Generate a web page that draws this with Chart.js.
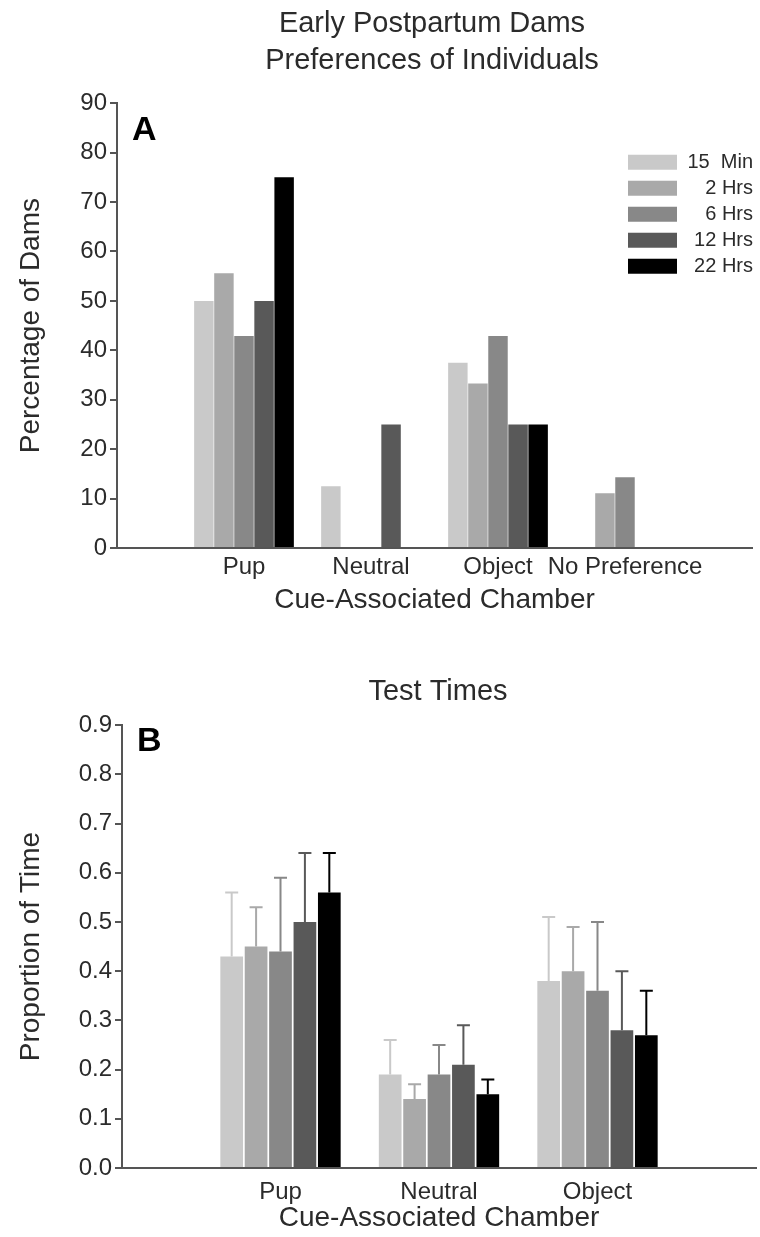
<!DOCTYPE html>
<html>
<head>
<meta charset="utf-8">
<script src="https://cdn.jsdelivr.net/npm/chart.js@4.4.1/dist/chart.umd.min.js"></script>
<style>
  html, body { margin: 0; background: #fff; overflow: hidden; width: 760px; height: 1237px; }
  #boxA { position: absolute; left: 0; top: 0; width: 864px; height: 625px; }
  #boxB { position: absolute; left: 0; top: 625px; width: 876px; height: 612px; }
</style>
</head>
<body>
<div id="boxA"><canvas id="chartA"></canvas></div>
<div id="boxB"><canvas id="chartB"></canvas></div>
<script>
"use strict";

// series shared by both panels
const seriesNames = ["15  Min", "2 Hrs", "6 Hrs", "12 Hrs", "22 Hrs"];
const seriesColors = ["#c9c9c9", "#a9a9a9", "#888888", "#595959", "#000000"];

// panel A - percentage of dams
const chambersA = ["Pup", "Neutral", "Object", "No Preference"];
const min15A = [50, 12.5, 37.5, 0];
const hrs2A = [55.6, 0, 33.3, 11.1];
const hrs6A = [42.9, 0, 42.9, 14.3];
const hrs12A = [50, 25, 25, 0];
const hrs22A = [75, 0, 25, 0];

// panel B - proportion of time
const chambersB = ["Pup", "Neutral", "Object"];
const min15B = [0.43, 0.19, 0.38];
const hrs2B = [0.45, 0.14, 0.40];
const hrs6B = [0.44, 0.19, 0.36];
const hrs12B = [0.50, 0.21, 0.28];
const hrs22B = [0.56, 0.15, 0.27];

// top of the error bars in panel B
const min15TopB = [0.56, 0.26, 0.51];
const hrs2TopB = [0.53, 0.17, 0.49];
const hrs6TopB = [0.59, 0.25, 0.50];
const hrs12TopB = [0.64, 0.29, 0.40];
const hrs22TopB = [0.64, 0.18, 0.36];

const textColor = "#2b2b2b";
const axisColor = "#555";
const fontFamily = "'Liberation Sans', Arial, sans-serif";

Chart.defaults.font.family = fontFamily;
Chart.defaults.color = textColor;

// empty slot on each side of the categories
function padded(arr, fill) {
  return [fill].concat(arr, [fill]);
}

function makeDatasets(valueLists, topLists) {
  let sets = [];
  for (let i = 0; i < valueLists.length; i++) {
    sets.push({
      label: seriesNames[i],
      data: padded(valueLists[i], null),
      errorTop: topLists ? padded(topLists[i], null) : null,
      backgroundColor: seriesColors[i],
      borderWidth: 0,
    });
  }
  return sets;
}

// upper error bars, drawn from each bar's top
const errorBars = {
  id: "errorBars",
  afterDatasetsDraw(chart) {
    const ctx = chart.ctx;
    const yScale = chart.scales.y;
    chart.data.datasets.forEach((ds, i) => {
      if (!ds.errorTop) return;
      const meta = chart.getDatasetMeta(i);
      meta.data.forEach((bar, j) => {
        const top = ds.errorTop[j];
        if (top === null || top === undefined) return;
        const yTop = yScale.getPixelForValue(top);
        ctx.save();
        ctx.strokeStyle = ds.backgroundColor;
        ctx.lineWidth = 2;
        ctx.beginPath();
        ctx.moveTo(bar.x, bar.y);
        ctx.lineTo(bar.x, yTop);
        ctx.moveTo(bar.x - 6.5, yTop);
        ctx.lineTo(bar.x + 6.5, yTop);
        ctx.stroke();
        ctx.restore();
      });
    });
  },
};

// panel letter in the top left corner
const panelLetter = {
  id: "panelLetter",
  afterDraw(chart, args, opts) {
    const ctx = chart.ctx;
    const area = chart.chartArea;
    ctx.save();
    ctx.fillStyle = "#000";
    ctx.font = "bold 34px " + fontFamily;
    ctx.textBaseline = "middle";
    ctx.fillText(opts.text, area.left + 15, area.top + opts.dy);
    ctx.restore();
  },
};

// legend box with right aligned labels inside the plot
const boxLegend = {
  id: "boxLegend",
  afterDraw(chart, args, opts) {
    if (!opts.show) return;
    const ctx = chart.ctx;
    const area = chart.chartArea;
    ctx.save();
    ctx.font = "20px " + fontFamily;
    ctx.textAlign = "right";
    ctx.textBaseline = "middle";
    chart.data.datasets.forEach((ds, i) => {
      const y = area.top + 59 + i * 26;
      ctx.fillStyle = ds.backgroundColor;
      ctx.fillRect(area.right - 124, y - 7.5, 49, 15);
      ctx.fillStyle = textColor;
      ctx.fillText(ds.label, area.right + 1, y);
    });
    ctx.restore();
  },
};

function makeChart(canvasId, cfg) {
  const config = {
    type: "bar",
    data: {
      labels: padded(cfg.categories, ""),
      datasets: makeDatasets(cfg.values, cfg.tops),
    },
    options: {
      responsive: true,
      maintainAspectRatio: false,
      animation: false,
      layout: { padding: 0 },
      datasets: {
        bar: { categoryPercentage: cfg.catPct, barPercentage: cfg.barPct },
      },
      plugins: {
        legend: { display: false },
        tooltip: { enabled: false },
        title: {
          display: true,
          text: cfg.title,
          color: textColor,
          font: { size: 29, weight: "normal", lineHeight: 1.28 },
          padding: cfg.titlePad,
        },
        panelLetter: { text: cfg.letter, dy: cfg.letterDy },
        boxLegend: { show: cfg.legend },
      },
      scales: {
        x: {
          offset: false,
          grid: { display: false, drawTicks: false },
          border: { display: true, color: axisColor, width: 2 },
          ticks: {
            color: textColor,
            font: { size: 24 },
            padding: cfg.xTickPad,
            maxRotation: 0,
            autoSkip: false,
          },
          title: {
            display: true,
            text: "Cue-Associated Chamber",
            color: textColor,
            font: { size: 28 },
            padding: { top: 0, bottom: cfg.xTitlePad },
          },
          afterFit(scale) {
            scale.height = cfg.xHeight;
          },
        },
        y: {
          min: 0,
          max: cfg.yMax,
          grid: {
            display: true,
            drawOnChartArea: false,
            drawTicks: true,
            tickLength: 7,
            color: axisColor,
            lineWidth: 2,
          },
          border: { display: true, color: axisColor, width: 2 },
          ticks: {
            stepSize: cfg.yStep,
            color: textColor,
            font: { size: 24 },
            padding: 3,
            callback: cfg.yFormat,
          },
          title: {
            display: true,
            text: cfg.yTitle,
            color: textColor,
            font: { size: 28 },
            padding: { top: 14, bottom: 0 },
          },
          afterFit(scale) {
            scale.width = cfg.yWidth;
          },
        },
        // empty strip on the right so the title centres over the plot
        yPad: {
          type: "linear",
          position: "right",
          grid: { display: false },
          border: { display: false },
          ticks: { display: false },
          afterFit(scale) {
            scale.width = cfg.rightPad;
          },
        },
      },
    },
    plugins: [errorBars, panelLetter, boxLegend],
  };
  return new Chart(document.getElementById(canvasId), config);
}

makeChart("chartA", {
  categories: chambersA,
  values: [min15A, hrs2A, hrs6A, hrs12A, hrs22A],
  tops: null,
  title: ["Early Postpartum Dams", "Preferences of Individuals"],
  titlePad: { top: 5, bottom: 24 },
  letter: "A",
  letterDy: 27,
  legend: true,
  yMax: 90,
  yStep: 10,
  yFormat: (v) => v,
  yTitle: "Percentage of Dams",
  yWidth: 117,
  xHeight: 77,
  xTickPad: 5,
  xTitlePad: 8,
  rightPad: 112,
  catPct: 0.79,
  barPct: 0.97,
});

makeChart("chartB", {
  categories: chambersB,
  values: [min15B, hrs2B, hrs6B, hrs12B, hrs22B],
  tops: [min15TopB, hrs2TopB, hrs6TopB, hrs12TopB, hrs22TopB],
  title: ["Test Times"],
  titlePad: { top: 48, bottom: 15 },
  letter: "B",
  letterDy: 17,
  legend: false,
  yMax: 0.9,
  yStep: 0.1,
  yFormat: (v) => v.toFixed(1),
  yTitle: "Proportion of Time",
  yWidth: 122,
  xHeight: 69,
  xTickPad: 10,
  xTitlePad: 2,
  rightPad: 120,
  catPct: 0.77,
  barPct: 0.93,
});
</script>
</body>
</html>
